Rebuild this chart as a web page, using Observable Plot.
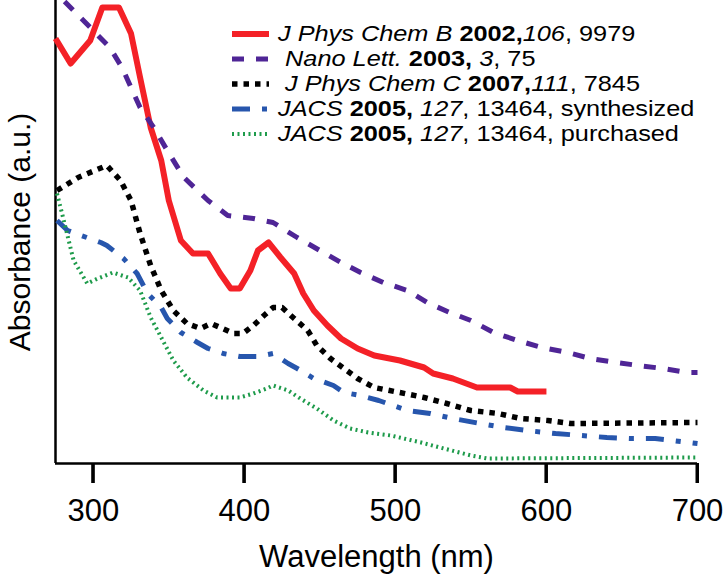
<!DOCTYPE html>
<html>
<head>
<meta charset="utf-8">
<script src="https://cdn.jsdelivr.net/npm/d3@7"></script>
<script src="https://cdn.jsdelivr.net/npm/@observablehq/plot@0.6"></script>
<style>
  html, body { margin: 0; padding: 0; background: white; }
  #wrap { position: relative; width: 723px; height: 580px; }
  #legend { position: absolute; left: 230px; top: 21px; font-family: "Liberation Sans", Arial, sans-serif; font-size: 22px; color: black; }
  #legend .row { height: 25px; line-height: 25px; white-space: pre; display: flex; align-items: center; }
  #legend svg { flex: none; margin-right: 9px; }
  #legend .txt { display: inline-block; line-height: 25px; height: 25px; transform: scaleX(1.15); transform-origin: 0 50%; }
</style>
</head>
<body>
<div id="wrap"></div>
<script>
// Tick labels
const xTicks = [300, 400, 500, 600, 700];

// J Phys Chem B 2002, 106, 9979 (red)
const redW = [275,285,298,306,317,325,331,338,345,350,358,366,376,384,391,397,404,409,416,424,433,439,446,455,464,475,486,503,519,525,538,554,576,581,600];
const redA = [4.25,4.00,4.23,4.56,4.56,4.30,3.86,3.36,3.03,2.63,2.23,2.10,2.10,1.90,1.75,1.75,1.93,2.13,2.21,2.06,1.90,1.70,1.53,1.38,1.25,1.15,1.08,1.03,0.96,0.90,0.85,0.76,0.76,0.72,0.72];

// Nano Lett. 2003, 3, 75 (purple)
const purW = [281,298,311,319,325,331,340,349,360,376,389,406,419,435,450,464,477,492,508,521,536,550,565,581,597,614,629,646,661,677,693,700];
const purA = [4.62,4.36,4.16,3.96,3.76,3.56,3.36,3.13,2.86,2.63,2.48,2.45,2.41,2.26,2.13,2.01,1.91,1.81,1.73,1.61,1.51,1.43,1.31,1.23,1.16,1.11,1.05,1.01,0.98,0.95,0.91,0.91];

// J Phys Chem C 2007, 111, 7845 (black)
const blkW = [276,290,309,318,325,331,338,345,353,362,371,378,384,393,399,406,413,419,425,433,442,448,457,466,475,486,503,519,534,550,568,583,601,616,700];
const blkA = [2.73,2.86,2.98,2.83,2.63,2.30,1.98,1.73,1.53,1.40,1.35,1.40,1.36,1.30,1.30,1.38,1.48,1.56,1.56,1.45,1.33,1.18,1.05,0.95,0.85,0.76,0.71,0.66,0.60,0.53,0.50,0.45,0.43,0.40,0.41];

// JACS 2005, 127, 13464, synthesized (blue)
const bluW = [276,283,292,305,309,320,329,336,345,349,358,369,376,386,397,409,419,429,435,446,459,466,477,489,508,523,538,556,572,587,606,623,640,656,672,689,700];
const bluA = [2.43,2.33,2.28,2.21,2.18,2.05,1.90,1.70,1.56,1.45,1.31,1.21,1.15,1.10,1.07,1.07,1.10,1.00,0.95,0.85,0.78,0.71,0.68,0.63,0.53,0.50,0.45,0.40,0.36,0.33,0.30,0.28,0.26,0.25,0.25,0.22,0.20];

// JACS 2005, 127, 13464, purchased (green)
const grnW = [276,280,287,296,303,313,323,331,338,345,353,362,373,382,397,406,415,419,429,437,448,459,470,482,497,517,532,550,561,700];
const grnA = [2.70,2.46,2.03,1.80,1.85,1.91,1.86,1.73,1.46,1.26,1.03,0.86,0.73,0.66,0.66,0.70,0.75,0.78,0.73,0.65,0.55,0.43,0.35,0.31,0.28,0.21,0.15,0.08,0.05,0.06];

const styles = [
  {color: "#f42127", width: 6, dash: null},
  {color: "#4f2596", width: 5, dash: "12,12"},
  {color: "#000000", width: 5.5, dash: "5.5,6"},
  {color: "#2756ad", width: 5, dash: "18,12,5,12"},
  {color: "#1e9b4b", width: 4, dash: "2,3.5"}
];

const legendHTML = [
  '<i>J Phys Chem B</i> <b>2002,</b><i>106</i>, 9979',
  ' <i>Nano Lett.</i> <b>2003,</b> <i>3</i>, 75',
  ' <i>J Phys Chem C</i> <b>2007,</b><i>111</i>, 7845',
  '<i>JACS</i> <b>2005,</b> <i>127</i>, 13464, synthesized',
  '<i>JACS</i> <b>2005,</b> <i>127</i>, 13464, purchased'
];

const series = [[redW, redA], [purW, purA], [blkW, blkA], [bluW, bluA], [grnW, grnA]];

const chart = Plot.plot({
  width: 723,
  height: 580,
  marginLeft: 55,
  marginRight: 26,
  marginTop: 0,
  marginBottom: 117,
  style: {fontFamily: "Liberation Sans, Arial, sans-serif", fontSize: "31px", color: "black", background: "white"},
  x: {domain: [275, 700]},
  y: {domain: [0, 4.63]},
  marks: [
    Plot.axisX({ticks: xTicks, tickSize: 20, tickPadding: 15, strokeWidth: 3, fontSize: 31, label: "Wavelength (nm)", labelAnchor: "center", labelOffset: 103, labelArrow: "none"}),
    Plot.axisY({ticks: [], tickSize: 0, label: "Absorbance (a.u.)", labelAnchor: "center", labelOffset: 47, labelArrow: "none", fontSize: 30}),
    Plot.ruleX([275], {strokeWidth: 2.5}),
    Plot.ruleY([0], {strokeWidth: 2.5}),
    ...series.map(([w, a], i) => Plot.lineY(a, {
      x: w,
      stroke: styles[i].color,
      strokeWidth: styles[i].width,
      strokeDasharray: styles[i].dash,
      strokeLinejoin: "round",
      strokeLinecap: "butt"
    }))
  ]
});

// Downward tick marks at the bottom axis, positioned through the chart's own x and y scales
const sx = chart.scale("x"), sy = chart.scale("y");
d3.select(chart).append("g")
  .attr("stroke", "#000").attr("stroke-width", 3)
  .selectAll("line").data(xTicks).join("line")
  .attr("x1", d => sx.apply(d)).attr("x2", d => sx.apply(d))
  .attr("y1", sy.apply(0)).attr("y2", sy.apply(0) + 20);

const wrap = document.getElementById("wrap");
wrap.appendChild(chart);

const legend = document.createElement("div");
legend.id = "legend";
styles.forEach((s, i) => {
  const row = document.createElement("div");
  row.className = "row";
  const dash = s.dash ? ` stroke-dasharray="${s.dash}"` : "";
  row.innerHTML = `<svg width="39" height="10"><line x1="2" y1="5" x2="39" y2="5" stroke="${s.color}" stroke-width="${s.width}"${dash}/></svg><span class="txt">${legendHTML[i]}</span>`;
  legend.appendChild(row);
});
wrap.appendChild(legend);
</script>
</body>
</html>
